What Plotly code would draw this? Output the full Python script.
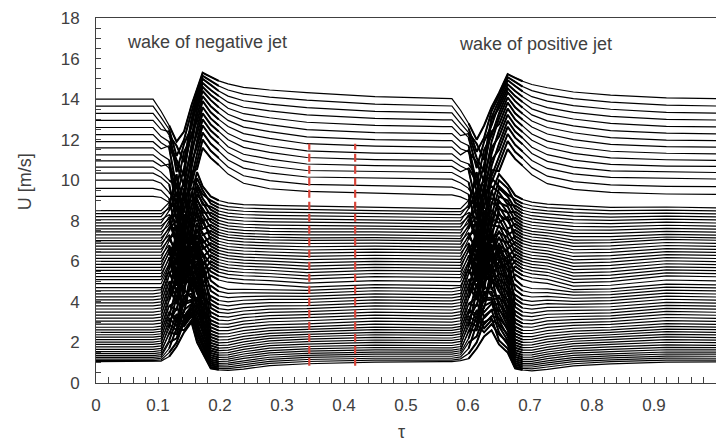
import plotly.graph_objects as go

# ---------------- data ----------------
# tau positions of the read-off points (first wake, then second wake)
KNOT_TAU = [0.0, 0.092, 0.105, 0.118, 0.13, 0.142, 0.154, 0.163, 0.172, 0.185, 0.198,
            0.213, 0.238, 0.28, 0.34, 0.45, 0.56,
            0.574, 0.588, 0.601, 0.614, 0.626, 0.638, 0.650, 0.664, 0.676, 0.688,
            0.703, 0.728, 0.77, 0.83, 0.92, 1.0]

# velocity of every profile line (top to bottom) at each read-off tau
U_PRE = [14.0, 13.65, 13.3, 12.95, 12.6, 12.25, 11.9, 11.6, 11.25, 10.95, 10.65, 10.35, 10.0, 9.6, 9.2,
         8.5, 8.35, 8.2, 8.05, 7.9, 7.75, 7.6, 7.45, 7.3, 7.15, 7.02, 6.9, 6.75, 6.6, 6.45, 6.3, 6.15, 6.0, 5.85, 5.7, 5.55, 5.4, 5.25, 5.1, 4.9, 4.7,
         4.55, 4.4, 4.25, 4.1, 3.95, 3.8, 3.65, 3.5, 3.35, 3.2, 3.05, 2.9, 2.75, 2.62, 2.5, 2.38, 2.26, 2.14, 2.02, 1.9, 1.78, 1.66, 1.55, 1.45, 1.35, 1.26, 1.18, 1.1, 1.05]
U_A1 = [13.4, 13.1, 12.8, 12.5, 12.15, 11.85, 11.55, 11.25, 10.95, 10.7, 10.4, 10.15, 9.85, 9.5, 9.15,
        8.5, 8.35, 8.2, 8.05, 7.9, 7.75, 7.6, 7.45, 7.3, 7.15, 7.02, 6.9, 6.75, 6.6, 6.45, 6.3, 6.15, 6.0, 5.85, 5.7, 5.55, 5.4, 5.25, 5.1, 4.9, 4.7,
        4.6, 4.45, 4.3, 4.15, 4.0, 3.85, 3.7, 3.55, 3.4, 3.25, 3.1, 2.95, 2.8, 2.67, 2.55, 2.43, 2.31, 2.19, 2.07, 1.95, 1.83, 1.71, 1.6, 1.5, 1.4, 1.3, 1.22, 1.14, 1.08]
U_B1 = [12.7, 12.5, 12.2, 12.4, 11.9, 11.6, 11.7, 11.0, 10.6, 10.8, 10.0, 9.8, 9.4, 9.1, 8.9,
        8.9, 8.6, 8.7, 8.3, 8.5, 8.1, 8.2, 7.8, 8.0, 7.6, 7.7, 7.3, 7.5, 7.1, 7.2, 6.8, 7.0, 6.6, 6.7, 6.4, 6.5, 6.1, 6.2, 5.9, 5.8, 5.5,
        5.6, 5.9, 5.3, 5.6, 5.0, 5.3, 4.7, 5.0, 4.4, 4.7, 4.1, 4.4, 3.8, 4.1, 3.5, 3.8, 3.3, 3.5, 3.0, 3.2, 2.7, 2.9, 2.4, 2.5, 2.1, 2.0, 1.7, 1.5, 1.3]
U_C1 = [11.9, 11.2, 11.7, 10.4, 11.0, 9.6, 10.8, 9.2, 10.1, 8.5, 9.7, 8.0, 9.0, 7.4, 8.6,
        9.8, 8.9, 10.3, 7.9, 9.4, 8.3, 7.0, 9.1, 6.8, 8.0, 7.6, 6.2, 8.7, 6.5, 7.3, 5.8, 7.8, 6.0, 5.4, 7.1, 5.1, 6.4, 4.8, 5.7, 6.9, 4.5,
        7.5, 6.6, 5.3, 7.2, 4.9, 6.1, 5.6, 4.2, 6.3, 3.9, 5.0, 4.5, 3.6, 5.4, 3.2, 4.0, 4.7, 3.0, 3.7, 2.8, 4.3, 2.6, 3.4, 2.4, 3.1, 2.2, 2.7, 2.0, 1.8]
U_D1 = [12.4, 12.0, 10.9, 11.8, 10.2, 11.4, 9.7, 10.6, 9.0, 10.0, 8.4, 9.5, 7.7, 8.9, 7.2,
        8.1, 9.9, 7.4, 9.2, 6.7, 8.6, 9.6, 6.3, 8.0, 7.0, 5.9, 7.8, 6.1, 8.3, 5.5, 7.5, 5.2, 6.9, 7.3, 4.9, 6.6, 5.0, 6.2, 4.6, 5.4, 6.0,
        5.7, 7.9, 6.8, 5.1, 7.0, 4.4, 6.4, 5.8, 4.1, 5.5, 6.5, 3.8, 5.2, 4.6, 3.5, 5.9, 3.9, 4.8, 3.3, 4.3, 3.1, 4.0, 2.9, 3.6, 2.8, 3.2, 2.6, 3.0, 2.5]
U_E1 = [13.7, 13.4, 13.0, 12.6, 12.9, 12.1, 11.8, 12.3, 11.2, 11.5, 10.6, 10.9, 10.1, 9.8, 10.4,
        9.3, 10.0, 8.7, 9.6, 8.2, 9.0, 7.6, 8.8, 7.9, 9.4, 7.1, 8.4, 7.3, 6.8, 8.0, 6.5, 7.7, 6.2, 7.0, 5.8, 6.9, 5.6, 6.4, 7.4, 5.3, 6.0,
        6.7, 5.9, 7.2, 6.1, 5.0, 6.6, 5.4, 6.3, 4.8, 5.7, 4.5, 5.5, 4.9, 4.2, 5.1, 4.6, 4.0, 5.2, 3.8, 4.4, 3.6, 4.1, 3.4, 3.9, 3.3, 3.7, 3.1, 3.5, 3.0]
U_F1 = [14.5, 14.35, 14.15, 13.95, 13.7, 13.5, 13.2, 12.9, 12.6, 12.3, 11.95, 11.65, 11.3, 10.9, 10.55,
        10.4, 9.8, 10.1, 9.5, 9.7, 9.1, 9.3, 8.8, 9.0, 8.5, 8.7, 8.2, 8.4, 7.9, 8.0, 7.6, 7.8, 7.3, 7.5, 7.0, 7.2, 6.8, 6.9, 6.5, 6.6, 6.3,
        6.4, 6.0, 6.1, 5.7, 5.9, 5.4, 5.6, 5.1, 5.3, 4.8, 5.0, 4.5, 4.7, 4.2, 4.4, 3.9, 4.1, 3.6, 3.8, 3.3, 3.5, 3.0, 3.1, 2.7, 2.8, 2.4, 2.5, 2.2, 2.0]
U_G1 = [15.3, 15.15, 15.0, 14.8, 14.6, 14.4, 14.15, 13.9, 13.6, 13.3, 13.0, 12.7, 12.35, 12.0, 11.6,
        9.7, 9.3, 9.5, 8.8, 9.1, 8.4, 8.9, 8.0, 8.6, 7.6, 8.3, 7.3, 7.9, 6.9, 8.1, 6.6, 7.4, 6.2, 7.1, 5.8, 6.8, 5.5, 6.4, 5.2, 6.0, 4.9,
        6.4, 4.8, 5.9, 4.5, 5.5, 4.2, 5.8, 3.9, 5.1, 3.6, 4.7, 3.4, 4.4, 3.1, 4.0, 2.9, 3.7, 2.7, 3.3, 2.5, 3.0, 2.2, 2.6, 2.0, 2.3, 1.8, 1.9, 1.6, 1.5]
U_H1 = [15.1, 14.9, 14.7, 14.45, 14.2, 13.95, 13.65, 13.35, 13.05, 12.75, 12.45, 12.15, 11.8, 11.45, 11.1,
        9.2, 9.0, 8.85, 8.7, 8.55, 8.4, 8.25, 8.1, 7.95, 7.8, 7.65, 7.5, 7.35, 7.2, 7.05, 6.9, 6.75, 6.6, 6.45, 6.3, 6.15, 6.0, 5.85, 5.7, 5.5, 5.3,
        5.05, 4.8, 4.55, 4.3, 4.1, 3.9, 3.7, 3.5, 3.3, 3.1, 2.92, 2.75, 2.58, 2.42, 2.27, 2.12, 1.98, 1.85, 1.72, 1.6, 1.48, 1.37, 1.26, 1.15, 1.05, 0.96, 0.87, 0.79, 0.72]
U_I1 = [14.9, 14.65, 14.4, 14.15, 13.9, 13.6, 13.3, 13.0, 12.7, 12.4, 12.1, 11.8, 11.45, 11.1, 10.75,
        9.0, 8.8, 8.64, 8.48, 8.33, 8.18, 8.02, 7.87, 7.72, 7.57, 7.43, 7.29, 7.14, 6.99, 6.84, 6.69, 6.54, 6.39, 6.24, 6.09, 5.94, 5.79, 5.63, 5.47, 5.28, 5.08,
        4.75, 4.52, 4.29, 4.07, 3.87, 3.67, 3.48, 3.29, 3.1, 2.92, 2.75, 2.58, 2.42, 2.27, 2.12, 1.98, 1.85, 1.72, 1.6, 1.48, 1.37, 1.26, 1.16, 1.06, 0.97, 0.88, 0.8, 0.72, 0.65]
U_J1 = [14.75, 14.45, 14.15, 13.85, 13.55, 13.25, 12.95, 12.65, 12.3, 12.0, 11.65, 11.35, 11.0, 10.65, 10.3,
        8.88, 8.7, 8.54, 8.38, 8.22, 8.06, 7.9, 7.75, 7.6, 7.45, 7.31, 7.18, 7.03, 6.88, 6.73, 6.58, 6.43, 6.28, 6.13, 5.98, 5.83, 5.68, 5.52, 5.36, 5.17, 4.97,
        4.62, 4.42, 4.21, 4.0, 3.8, 3.61, 3.43, 3.25, 3.07, 2.9, 2.74, 2.58, 2.43, 2.28, 2.14, 2.0, 1.87, 1.74, 1.62, 1.5, 1.39, 1.28, 1.18, 1.08, 0.98, 0.89, 0.8, 0.71, 0.62]
U_K1 = [14.58, 14.25, 13.92, 13.6, 13.28, 12.95, 12.62, 12.3, 11.95, 11.62, 11.28, 10.95, 10.6, 10.22, 9.85,
        8.8, 8.63, 8.47, 8.31, 8.15, 7.99, 7.83, 7.68, 7.53, 7.38, 7.24, 7.11, 6.96, 6.81, 6.66, 6.51, 6.36, 6.21, 6.06, 5.91, 5.76, 5.61, 5.45, 5.29, 5.1, 4.9,
        4.62, 4.45, 4.26, 4.08, 3.9, 3.72, 3.55, 3.38, 3.22, 3.05, 2.9, 2.74, 2.58, 2.44, 2.3, 2.16, 2.03, 1.9, 1.78, 1.66, 1.54, 1.43, 1.32, 1.21, 1.1, 1.0, 0.9, 0.8, 0.68]
U_L1 = [14.45, 14.1, 13.75, 13.42, 13.08, 12.74, 12.4, 12.06, 11.7, 11.37, 11.04, 10.7, 10.36, 9.98, 9.58,
        8.76, 8.59, 8.43, 8.27, 8.11, 7.95, 7.79, 7.63, 7.48, 7.33, 7.19, 7.06, 6.91, 6.76, 6.61, 6.46, 6.31, 6.16, 6.01, 5.86, 5.71, 5.56, 5.4, 5.24, 5.05, 4.85,
        4.6, 4.44, 4.28, 4.12, 3.96, 3.8, 3.64, 3.48, 3.32, 3.17, 3.02, 2.87, 2.72, 2.58, 2.45, 2.32, 2.2, 2.08, 1.96, 1.84, 1.72, 1.6, 1.49, 1.38, 1.27, 1.17, 1.07, 0.97, 0.86]
U_M1 = [14.32, 13.95, 13.58, 13.22, 12.86, 12.5, 12.14, 11.8, 11.45, 11.12, 10.8, 10.48, 10.16, 9.8, 9.45,
        8.72, 8.55, 8.4, 8.24, 8.08, 7.92, 7.76, 7.6, 7.45, 7.3, 7.16, 7.03, 6.88, 6.72, 6.56, 6.4, 6.24, 6.08, 5.92, 5.76, 5.6, 5.44, 5.28, 5.12, 4.93, 4.73,
        4.57, 4.42, 4.27, 4.12, 3.97, 3.82, 3.67, 3.52, 3.37, 3.22, 3.07, 2.92, 2.77, 2.64, 2.52, 2.4, 2.28, 2.16, 2.04, 1.92, 1.8, 1.68, 1.57, 1.46, 1.36, 1.26, 1.16, 1.06, 0.95]
U_N1 = [14.12, 13.75, 13.4, 13.05, 12.7, 12.35, 12.0, 11.68, 11.34, 11.02, 10.72, 10.42, 10.1, 9.72, 9.35,
        8.66, 8.5, 8.36, 8.2, 8.05, 7.9, 7.74, 7.6, 7.45, 7.3, 7.17, 7.05, 6.9, 6.75, 6.6, 6.45, 6.3, 6.15, 6.0, 5.85, 5.7, 5.55, 5.4, 5.25, 5.05, 4.85,
        4.7, 4.55, 4.4, 4.25, 4.1, 3.95, 3.8, 3.65, 3.5, 3.35, 3.2, 3.05, 2.9, 2.76, 2.63, 2.5, 2.38, 2.25, 2.12, 2.0, 1.87, 1.75, 1.63, 1.52, 1.42, 1.32, 1.22, 1.13, 1.03]
U_P = [14.02, 13.66, 13.32, 12.98, 12.64, 12.3, 11.95, 11.63, 11.3, 10.98, 10.68, 10.38, 10.05, 9.66, 9.28,
       8.6, 8.45, 8.3, 8.15, 8.0, 7.85, 7.7, 7.55, 7.4, 7.25, 7.12, 7.0, 6.85, 6.7, 6.55, 6.4, 6.25, 6.1, 5.95, 5.8, 5.65, 5.5, 5.35, 5.2, 5.0, 4.8,
       4.65, 4.5, 4.35, 4.2, 4.05, 3.9, 3.75, 3.6, 3.45, 3.3, 3.15, 3.0, 2.85, 2.72, 2.6, 2.47, 2.35, 2.22, 2.1, 1.98, 1.85, 1.73, 1.62, 1.52, 1.42, 1.32, 1.22, 1.13, 1.05]
U_A2 = [13.45, 13.1, 12.8, 12.5, 12.2, 11.9, 11.55, 11.25, 10.95, 10.7, 10.42, 10.15, 9.86, 9.52, 9.18,
        8.6, 8.45, 8.3, 8.15, 8.0, 7.85, 7.7, 7.55, 7.4, 7.25, 7.12, 7.0, 6.85, 6.7, 6.55, 6.4, 6.25, 6.1, 5.95, 5.8, 5.65, 5.5, 5.35, 5.2, 5.0, 4.8,
        4.72, 4.57, 4.42, 4.27, 4.12, 3.97, 3.82, 3.67, 3.52, 3.37, 3.22, 3.07, 2.92, 2.79, 2.67, 2.54, 2.42, 2.29, 2.17, 2.05, 1.92, 1.8, 1.69, 1.59, 1.49, 1.39, 1.29, 1.19, 1.1]
U_B2 = [12.8, 12.55, 12.35, 12.1, 12.3, 11.7, 11.4, 11.5, 10.8, 10.5, 10.6, 9.9, 9.6, 9.3, 9.0,
        9.0, 8.7, 8.8, 8.4, 8.6, 8.2, 8.3, 7.9, 8.1, 7.7, 7.8, 7.4, 7.6, 7.2, 7.3, 6.9, 7.1, 6.7, 6.8, 6.5, 6.6, 6.2, 6.3, 6.0, 5.9, 5.6,
        5.7, 6.0, 5.4, 5.7, 5.1, 5.4, 4.8, 5.1, 4.5, 4.8, 4.2, 4.5, 3.9, 4.2, 3.6, 3.9, 3.4, 3.6, 3.1, 3.3, 2.8, 3.0, 2.5, 2.6, 2.2, 2.0, 1.7, 1.45, 1.2]
U_C2 = [12.0, 11.4, 11.8, 10.6, 11.1, 9.8, 10.9, 9.4, 10.2, 8.7, 9.9, 8.2, 9.1, 7.6, 8.8,
        10.0, 9.1, 10.4, 8.1, 9.5, 8.5, 7.2, 9.3, 7.0, 8.2, 7.8, 6.4, 8.9, 6.7, 7.5, 6.0, 8.0, 6.2, 5.6, 7.3, 5.3, 6.6, 5.0, 5.9, 7.1, 4.7,
        7.7, 6.8, 5.5, 7.4, 5.1, 6.3, 5.8, 4.4, 6.5, 4.1, 5.2, 4.7, 3.8, 5.6, 3.4, 4.2, 4.9, 3.2, 3.9, 3.0, 4.5, 2.8, 3.6, 2.6, 3.3, 2.3, 2.9, 2.0, 1.7]
U_D2 = [12.7, 12.1, 11.0, 11.9, 10.4, 11.5, 9.9, 10.8, 9.2, 10.2, 8.6, 9.7, 7.9, 9.1, 7.4,
        8.3, 10.1, 7.6, 9.4, 6.9, 8.8, 9.8, 6.5, 8.2, 7.2, 6.1, 8.0, 6.3, 8.5, 5.7, 7.7, 5.4, 7.1, 7.5, 5.1, 6.8, 5.2, 6.4, 4.8, 5.6, 6.2,
        5.9, 8.1, 7.0, 5.3, 7.2, 4.6, 6.6, 6.0, 4.3, 5.7, 6.7, 4.0, 5.4, 4.8, 3.7, 6.1, 4.1, 5.0, 3.5, 4.5, 3.2, 4.2, 2.9, 3.8, 2.7, 3.3, 2.5, 3.0, 2.3]
U_E2 = [13.6, 13.4, 13.1, 12.7, 13.0, 12.2, 11.9, 12.4, 11.3, 11.6, 10.7, 11.0, 10.2, 9.9, 10.5,
        9.4, 10.1, 8.8, 9.7, 8.3, 9.1, 7.7, 8.9, 8.0, 9.5, 7.2, 8.5, 7.4, 6.9, 8.1, 6.6, 7.8, 6.3, 7.1, 5.9, 7.0, 5.7, 6.5, 7.5, 5.4, 6.1,
        6.8, 6.0, 7.3, 6.2, 5.1, 6.7, 5.5, 6.4, 4.9, 5.8, 4.6, 5.6, 5.0, 4.3, 5.2, 4.7, 4.1, 5.3, 3.9, 4.5, 3.6, 4.2, 3.3, 4.0, 3.1, 3.6, 2.9, 3.2, 2.6]
U_F2 = [14.3, 14.15, 13.95, 13.75, 13.55, 13.3, 13.05, 12.75, 12.45, 12.15, 11.8, 11.5, 11.15, 10.8, 10.45,
        10.3, 9.7, 10.0, 9.4, 9.6, 9.0, 9.2, 8.7, 8.9, 8.4, 8.6, 8.1, 8.3, 7.8, 7.9, 7.5, 7.7, 7.2, 7.4, 6.9, 7.1, 6.7, 6.8, 6.4, 6.5, 6.2,
        6.5, 6.1, 6.2, 5.8, 6.0, 5.5, 5.7, 5.2, 5.4, 4.9, 5.1, 4.6, 4.8, 4.3, 4.5, 4.0, 4.2, 3.7, 3.9, 3.4, 3.6, 3.1, 3.2, 2.8, 2.9, 2.5, 2.4, 2.1, 1.9]
U_G2 = [15.23, 15.08, 14.93, 14.73, 14.53, 14.33, 14.08, 13.83, 13.53, 13.23, 12.93, 12.63, 12.28, 11.93, 11.53,
        9.8, 9.3, 9.6, 8.8, 9.2, 8.4, 9.0, 8.0, 8.7, 7.6, 8.4, 7.3, 8.0, 6.9, 8.2, 6.6, 7.5, 6.2, 7.2, 5.8, 6.9, 5.5, 6.5, 5.2, 6.1, 4.9,
        6.5, 4.9, 6.0, 4.6, 5.6, 4.3, 5.9, 4.0, 5.2, 3.7, 4.8, 3.5, 4.5, 3.2, 4.1, 3.0, 3.8, 2.8, 3.4, 2.6, 3.1, 2.3, 2.7, 2.1, 2.4, 1.9, 2.0, 1.7, 1.5]
U_H2 = [15.05, 14.85, 14.65, 14.4, 14.15, 13.9, 13.6, 13.3, 13.0, 12.7, 12.4, 12.1, 11.75, 11.4, 11.05,
        9.25, 9.05, 8.9, 8.75, 8.6, 8.45, 8.3, 8.15, 8.0, 7.85, 7.7, 7.55, 7.4, 7.25, 7.1, 6.95, 6.8, 6.65, 6.5, 6.35, 6.2, 6.05, 5.9, 5.75, 5.55, 5.35,
        5.1, 4.85, 4.6, 4.35, 4.15, 3.95, 3.75, 3.55, 3.35, 3.15, 2.96, 2.78, 2.61, 2.45, 2.3, 2.15, 2.0, 1.87, 1.74, 1.62, 1.5, 1.39, 1.28, 1.17, 1.07, 0.98, 0.89, 0.8, 0.72]
U_I2 = [14.88, 14.62, 14.38, 14.12, 13.86, 13.58, 13.28, 12.98, 12.68, 12.38, 12.08, 11.78, 11.42, 11.08, 10.72,
        9.05, 8.85, 8.68, 8.52, 8.37, 8.21, 8.05, 7.9, 7.75, 7.6, 7.46, 7.32, 7.17, 7.02, 6.87, 6.72, 6.57, 6.42, 6.27, 6.12, 5.97, 5.82, 5.66, 5.5, 5.31, 5.11,
        4.78, 4.55, 4.32, 4.1, 3.9, 3.7, 3.5, 3.31, 3.12, 2.94, 2.77, 2.6, 2.44, 2.29, 2.14, 2.0, 1.87, 1.74, 1.62, 1.5, 1.38, 1.27, 1.17, 1.07, 0.97, 0.88, 0.8, 0.72, 0.64]
U_J2 = [14.72, 14.42, 14.12, 13.82, 13.52, 13.22, 12.92, 12.62, 12.28, 11.97, 11.63, 11.32, 10.97, 10.62, 10.27,
        8.92, 8.74, 8.57, 8.41, 8.25, 8.09, 7.93, 7.78, 7.63, 7.48, 7.34, 7.2, 7.05, 6.9, 6.75, 6.6, 6.45, 6.3, 6.15, 6.0, 5.85, 5.7, 5.54, 5.38, 5.19, 4.99,
        4.66, 4.45, 4.24, 4.03, 3.83, 3.64, 3.45, 3.27, 3.09, 2.92, 2.75, 2.59, 2.44, 2.29, 2.15, 2.01, 1.88, 1.75, 1.62, 1.5, 1.39, 1.28, 1.17, 1.07, 0.97, 0.88, 0.79, 0.7, 0.6]
U_K2 = [14.56, 14.22, 13.9, 13.58, 13.26, 12.93, 12.6, 12.28, 11.93, 11.6, 11.26, 10.93, 10.58, 10.2, 9.83,
        8.82, 8.65, 8.49, 8.33, 8.17, 8.01, 7.85, 7.7, 7.55, 7.4, 7.26, 7.12, 6.97, 6.82, 6.67, 6.52, 6.37, 6.22, 6.07, 5.92, 5.77, 5.62, 5.46, 5.3, 5.11, 4.91,
        4.64, 4.46, 4.27, 4.09, 3.91, 3.73, 3.56, 3.39, 3.23, 3.06, 2.9, 2.74, 2.58, 2.44, 2.3, 2.16, 2.03, 1.9, 1.77, 1.65, 1.53, 1.42, 1.31, 1.2, 1.09, 0.99, 0.89, 0.79, 0.67]
U_L2 = [14.35, 14.02, 13.68, 13.35, 13.02, 12.68, 12.34, 12.0, 11.65, 11.32, 10.99, 10.65, 10.31, 9.93, 9.55,
        8.75, 8.57, 8.4, 8.23, 8.06, 7.89, 7.72, 7.55, 7.38, 7.22, 7.05, 6.9, 6.74, 6.57, 6.41, 6.24, 6.07, 5.91, 5.75, 5.59, 5.43, 5.27, 5.11, 4.95, 4.78, 4.6,
        4.48, 4.33, 4.18, 4.03, 3.88, 3.73, 3.58, 3.43, 3.28, 3.13, 2.98, 2.84, 2.7, 2.56, 2.43, 2.3, 2.18, 2.06, 1.94, 1.82, 1.7, 1.58, 1.47, 1.36, 1.25, 1.15, 1.05, 0.95, 0.84]
U_M2 = [14.2, 13.85, 13.5, 13.15, 12.8, 12.45, 12.1, 11.77, 11.43, 11.1, 10.78, 10.46, 10.14, 9.77, 9.4,
        8.66, 8.5, 8.34, 8.18, 8.02, 7.86, 7.7, 7.54, 7.38, 7.22, 7.06, 6.92, 6.76, 6.6, 6.44, 6.28, 6.12, 5.96, 5.8, 5.64, 5.48, 5.32, 5.16, 5.0, 4.82, 4.64,
        4.5, 4.36, 4.21, 4.06, 3.91, 3.76, 3.61, 3.46, 3.31, 3.17, 3.03, 2.89, 2.75, 2.62, 2.5, 2.38, 2.26, 2.14, 2.02, 1.9, 1.78, 1.66, 1.55, 1.44, 1.34, 1.24, 1.14, 1.05, 0.94]
U_N2 = [14.06, 13.7, 13.35, 13.0, 12.66, 12.32, 11.98, 11.66, 11.33, 11.01, 10.7, 10.4, 10.08, 9.7, 9.32,
        8.68, 8.53, 8.38, 8.23, 8.08, 7.93, 7.78, 7.63, 7.48, 7.33, 7.2, 7.08, 6.93, 6.78, 6.63, 6.48, 6.33, 6.18, 6.03, 5.88, 5.73, 5.58, 5.43, 5.28, 5.08, 4.88,
        4.73, 4.58, 4.43, 4.28, 4.13, 3.98, 3.83, 3.68, 3.53, 3.38, 3.23, 3.08, 2.93, 2.79, 2.66, 2.53, 2.4, 2.27, 2.14, 2.01, 1.88, 1.76, 1.64, 1.53, 1.43, 1.33, 1.23, 1.13, 1.03]
U_END = [14.02, 13.66, 13.31, 12.97, 12.63, 12.29, 11.95, 11.63, 11.3, 10.98, 10.68, 10.38, 10.06, 9.68, 9.3,
         8.64, 8.49, 8.34, 8.19, 8.04, 7.89, 7.74, 7.59, 7.44, 7.29, 7.16, 7.04, 6.89, 6.74, 6.59, 6.44, 6.29, 6.14, 5.99, 5.84, 5.69, 5.54, 5.39, 5.24, 5.04, 4.84,
         4.69, 4.54, 4.39, 4.24, 4.09, 3.94, 3.79, 3.64, 3.49, 3.34, 3.19, 3.04, 2.89, 2.76, 2.63, 2.5, 2.37, 2.24, 2.11, 1.99, 1.86, 1.74, 1.63, 1.52, 1.42, 1.32, 1.22, 1.13, 1.04]

# red dashed markers
RED_TAU = [0.344, 0.418]
RED_SPAN = [0.85, 11.8]

# axis ticks and labels
X_TICKS = [0, 0.1, 0.2, 0.3, 0.4, 0.5, 0.6, 0.7, 0.8, 0.9]
X_TICK_TEXT = ["0", "0.1", "0.2", "0.3", "0.4", "0.5", "0.6", "0.7", "0.8", "0.9"]
Y_TICKS = [0, 2, 4, 6, 8, 10, 12, 14, 16, 18]

# ---------------- build figure ----------------
KNOT_U = [U_PRE, U_PRE, U_A1, U_B1, U_C1, U_D1, U_E1, U_F1, U_G1, U_H1, U_I1, U_J1, U_K1,
          U_L1, U_M1, U_N1, U_P,
          U_P, U_A2, U_B2, U_C2, U_D2, U_E2, U_F2, U_G2, U_H2, U_I2, U_J2, U_K2,
          U_L2, U_M2, U_N2, U_END]
assert len(KNOT_U) == len(KNOT_TAU), (len(KNOT_U), len(KNOT_TAU))
N = len(U_PRE)
for j, lst in enumerate(KNOT_U):
    assert len(lst) == N, ("knot", j, len(lst))

# full lines
xs, ys = [], []
for i in range(N):
    xs += KNOT_TAU + [None]
    ys += [k[i] for k in KNOT_U] + [None]

# the turbulent wake passages are drawn with a heavier stroke (same data)
WAKE_SPANS = [(3, 10), (19, 26)]
wx, wy = [], []
for a, b in WAKE_SPANS:
    for i in range(N):
        wx += KNOT_TAU[a:b + 1] + [None]
        wy += [k[i] for k in KNOT_U[a:b + 1]] + [None]

fig = go.Figure()
fig.add_trace(go.Scatter(x=xs, y=ys, mode="lines", connectgaps=False,
                         line=dict(color="black", width=1.2), hoverinfo="skip"))
fig.add_trace(go.Scatter(x=wx, y=wy, mode="lines", connectgaps=False,
                         line=dict(color="black", width=2.0), hoverinfo="skip"))
for t in RED_TAU:
    fig.add_trace(go.Scatter(x=[t, t], y=RED_SPAN, mode="lines",
                             line=dict(color="#d9453a", width=2.2, dash="8px,4px"),
                             hoverinfo="skip"))

AX = "#404040"
fig.update_layout(
    width=717, height=443,
    margin=dict(l=96, r=1, t=18, b=60),
    paper_bgcolor="white", plot_bgcolor="white", showlegend=False,
    font=dict(family="Liberation Sans, Arial, sans-serif", size=17, color="#404040"),
    xaxis=dict(range=[0, 1], tickmode="array", tickvals=X_TICKS, ticktext=X_TICK_TEXT,
               ticks="inside", ticklen=6, tickwidth=1, tickcolor=AX,
               showline=True, linecolor=AX, linewidth=1, mirror=True,
               showgrid=False, zeroline=False, ticklabelstandoff=7,
               minor=dict(tickmode="linear", tick0=0, dtick=0.02, ticks="inside",
                          ticklen=6, tickcolor=AX, showgrid=False)),
    yaxis=dict(range=[0, 18], tickmode="array", tickvals=Y_TICKS,
               ticks="inside", ticklen=5, tickwidth=1, tickcolor=AX,
               showline=True, linecolor=AX, linewidth=1, mirror=False,
               showgrid=False, zeroline=False, ticklabelstandoff=12,
               minor=dict(tickmode="linear", tick0=0, dtick=0.5, ticks="inside",
                          ticklen=5, tickcolor=AX, showgrid=False)),
)

fig.add_annotation(x=0.047, y=16.8, xref="x", yref="y", text="wake of negative jet",
                   showarrow=False, xanchor="left", yanchor="middle",
                   font=dict(size=18, color="#404040"))
fig.add_annotation(x=0.582, y=16.7, xref="x", yref="y", text="wake of positive jet",
                   showarrow=False, xanchor="left", yanchor="middle",
                   font=dict(size=18, color="#404040"))
fig.add_annotation(x=-0.1145, y=0.55, xref="paper", yref="paper", text="U [m/s]",
                   textangle=-90, showarrow=False, xanchor="center", yanchor="middle",
                   font=dict(size=18, color="#404040"))
fig.add_annotation(x=0.493, y=-0.135, xref="paper", yref="paper", text="τ",
                   showarrow=False, xanchor="center", yanchor="middle",
                   font=dict(size=18, color="#404040"))

fig.write_html("out.html")
